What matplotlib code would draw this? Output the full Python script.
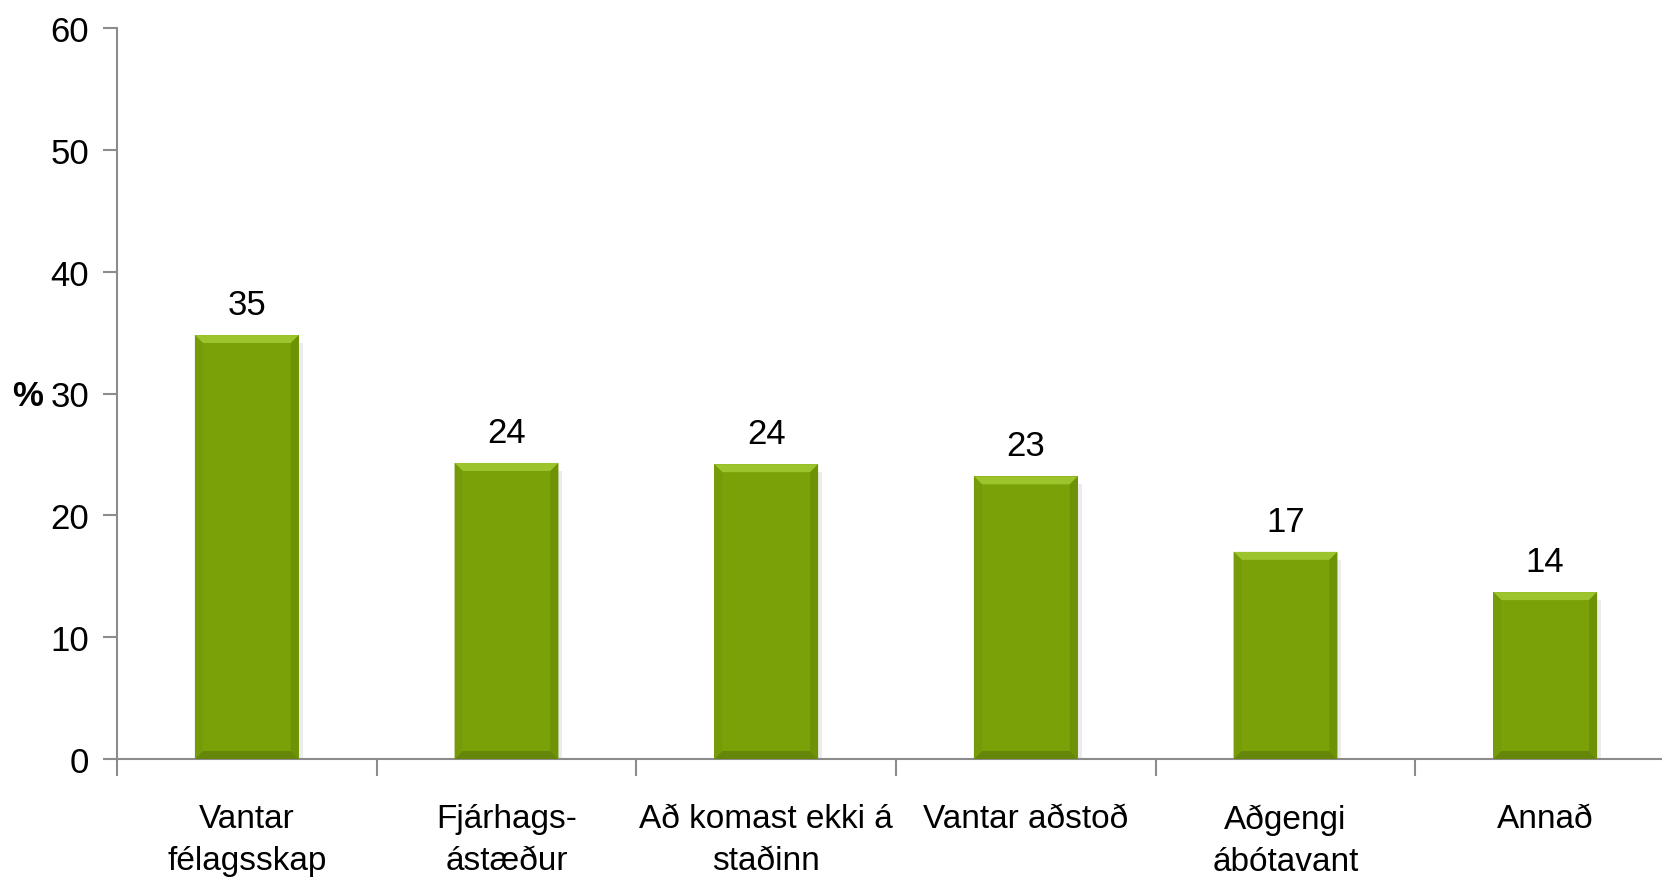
import matplotlib.pyplot as plt
from matplotlib.patches import Polygon


categories = [
    "Vantar\nfélagsskap",
    "Fjárhags-\nástæður",
    "Að komast ekki á\nstaðinn",
    "Vantar aðstoð",
    "Aðgengi\nábótavant",
    "Annað",
]
values = [34.8, 24.3, 24.2, 23.2, 17.0, 13.7]
yticks = [0, 10, 20, 30, 40, 50, 60]

plt.rcParams["font.family"] = ["Liberation Sans Narrow", "Liberation Sans", "DejaVu Sans"]

W, H, DPI = 1662, 878, 100
fig = plt.figure(figsize=(W / DPI, H / DPI), dpi=DPI)
ax_l, ax_b, ax_w, ax_h = 117 / W, 118 / H, 1558 / W, 731 / H
ax = fig.add_axes([ax_l, ax_b, ax_w, ax_h])

x = list(range(len(categories)))
width = 0.4
base = "#7aa108"
ax.bar(x, values, width=width, color=base, edgecolor="none", zorder=2)

# bevel effect on the bars
px_x = (len(categories)) / (ax_w * W)
px_y = 60 / (ax_h * H)
bx, by = 8 * px_x, 8 * px_y
for xi, v in zip(x, values):
    x0, x1 = xi - width / 2, xi + width / 2
    top = [(x0, v), (x1, v), (x1 - bx, v - by), (x0 + bx, v - by)]
    bot = [(x0, 0), (x1, 0), (x1 - bx, by), (x0 + bx, by)]
    left = [(x0, 0), (x0, v), (x0 + bx, v - by), (x0 + bx, by)]
    right = [(x1, 0), (x1, v), (x1 - bx, v - by), (x1 - bx, by)]
    ax.add_patch(Polygon(top, closed=True, color="#9cc42c", lw=0, zorder=3))
    ax.add_patch(Polygon(bot, closed=True, color="#66860a", lw=0, zorder=3))
    ax.add_patch(Polygon(left, closed=True, color="#759b08", lw=0, zorder=3))
    ax.add_patch(Polygon(right, closed=True, color="#6e9206", lw=0, zorder=3))
    # faint shadow
    ax.add_patch(Polygon([(x1, v - by), (x1 + 4 * px_x, v - by), (x1 + 4 * px_x, 0), (x1, 0)],
                         closed=True, color="#ececec", lw=0, zorder=1))
    ax.text(xi, v + 14 * px_y, f"{round(v):d}", ha="center", va="bottom", fontsize=25)

ax.set_xlim(-0.5, len(categories) - 0.5)
ax.set_ylim(0, 60)
ax.set_yticks(yticks)
ax.set_yticklabels([str(t) for t in yticks], fontsize=25)
ax.set_xticks([i + 0.5 for i in range(-1, len(categories))])
ax.set_xticklabels([])
ax.set_xticks(x, minor=True)
ax.set_xticklabels(categories, minor=True, fontsize=24, linespacing=1.45)
ax.tick_params(axis="x", which="minor", length=0, pad=32)
ax.tick_params(axis="x", which="major", length=12, color="#8c8c8c", width=1.5)
ax.tick_params(axis="y", length=10, color="#8c8c8c", width=1.5, pad=10)

for s in ["top", "right"]:
    ax.spines[s].set_visible(False)
for s in ["left", "bottom"]:
    ax.spines[s].set_color("#8c8c8c")
    ax.spines[s].set_linewidth(1.5)

fig.text(12 / W, 1 - 397 / H, "%", fontsize=25, fontweight="bold", ha="left", va="center")

fig.savefig("out.png", dpi=DPI)
plt.close(fig)
